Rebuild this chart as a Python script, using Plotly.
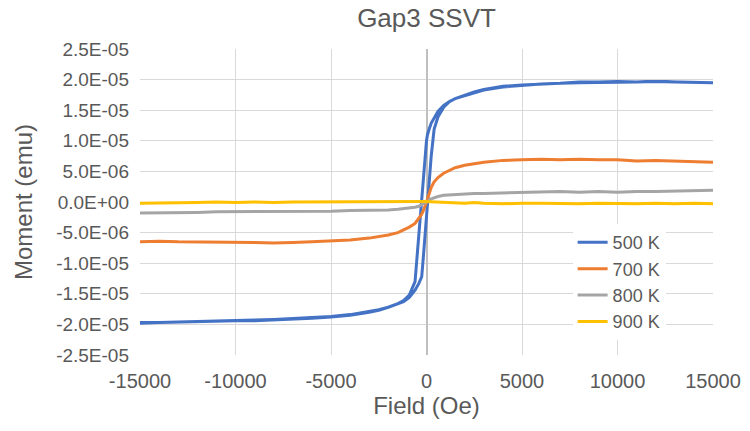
import plotly.graph_objects as go

# Field values (Oe), sweep from +15000 down to -15000
FIELD = [15000, 14000, 13000, 12000, 11000, 10000, 9000, 8000, 7000, 6000, 5000, 4000, 3000,
         2500, 2000, 1500, 1200, 900, 600, 400, 250, 150, 100, 50, 0,
         -50, -100, -150, -250, -400, -600, -900, -1200, -1500, -2000, -2500, -3000,
         -4000, -5000, -6000, -7000, -8000, -9000, -10000, -11000, -12000, -13000, -14000, -15000]
FIELD_UP = FIELD[::-1]

# Moments in micro-emu (1E-06 emu)
M500_DOWN = [19.5, 19.6, 19.6, 19.7, 19.6, 19.6, 19.5, 19.5, 19.4, 19.3, 19.1, 18.9, 18.4,
             18.0, 17.5, 16.9, 16.4, 15.8, 14.8, 13.8, 12.9, 12.0, 11.5, 11.0, 10.0,
             8.0, 6.0, 4.0, 0.0, -6.0, -13.0, -15.2, -16.1, -16.6, -17.2, -17.6, -17.9,
             -18.4, -18.7, -18.9, -19.1, -19.2, -19.3, -19.4, -19.5, -19.5, -19.6, -19.7, -19.7]
M500_UP = [-19.8, -19.7, -19.6, -19.6, -19.5, -19.4, -19.4, -19.3, -19.1, -19.0, -18.8, -18.5,
           -18.0, -17.7, -17.2, -16.7, -16.3, -15.6, -14.4, -13.3, -12.2, -8.4, -6.4, -4.4,
           -2.4, -0.4, 1.6, 3.6, 7.6, 11.9, 13.9, 15.5, 16.4, 16.9, 17.4, 17.9, 18.3,
           18.8, 19.1, 19.3, 19.4, 19.6, 19.6, 19.7, 19.6, 19.7, 19.6, 19.5, 19.5]
M700 = [6.5, 6.6, 6.6, 6.8, 6.7, 6.9, 6.9, 7.0, 6.9, 7.0, 6.9, 6.8, 6.5,
        6.3, 6.0, 5.6, 5.2, 4.7, 4.0, 3.3, 2.4, 1.6, 1.1, 0.5, 0.0,
        -0.5, -0.9, -1.3, -2.0, -2.7, -3.5, -4.1, -4.6, -5.0, -5.4, -5.7, -5.9,
        -6.2, -6.4, -6.5, -6.6, -6.7, -6.6, -6.6, -6.5, -6.6, -6.5, -6.4, -6.5]
M800 = [1.9, 1.8, 1.8, 1.7, 1.7, 1.6, 1.7, 1.6, 1.7, 1.6, 1.6, 1.5, 1.4,
        1.4, 1.3, 1.2, 1.2, 1.1, 0.9, 0.7, 0.5, 0.3, 0.2, 0.1, 0.0,
        -0.1, -0.2, -0.3, -0.5, -0.7, -0.85, -1.0, -1.1, -1.2, -1.3, -1.3, -1.4,
        -1.4, -1.5, -1.5, -1.6, -1.5, -1.6, -1.6, -1.6, -1.7, -1.7, -1.8, -1.8]
M900 = [-0.3, -0.2, -0.3, -0.2, -0.3, -0.2, -0.2, -0.3, -0.2, -0.2, -0.2, -0.3, -0.2,
        -0.1, -0.2, -0.1, -0.1, -0.1, 0.0, 0.0, 0.1, 0.1, 0.1, 0.1, 0.1,
        0.1, 0.1, 0.1, 0.1, 0.0, 0.1, 0.0, 0.1, 0.0, 0.0, 0.1, 0.0,
        0.0, 0.1, 0.0, 0.0, -0.1, 0.0, -0.1, 0.0, -0.1, -0.1, -0.2, -0.2]

SERIES_NAMES = ["500 K", "700 K", "800 K", "900 K"]
COLORS = ["#4472C4", "#ED7D31", "#A5A5A5", "#FFC000"]

X_TICKS = [-15000, -10000, -5000, 0, 5000, 10000, 15000]
X_TICK_LABELS = ["-15000", "-10000", "-5000", "0", "5000", "10000", "15000"]
Y_TICKS = [-2.5e-5, -2.0e-5, -1.5e-5, -1.0e-5, -5.0e-6, 0.0, 5.0e-6, 1.0e-5, 1.5e-5, 2.0e-5, 2.5e-5]
Y_TICK_LABELS = ["-2.5E-05", "-2.0E-05", "-1.5E-05", "-1.0E-05", "-5.0E-06", "0.0E+00",
                 "5.0E-06", "1.0E-05", "1.5E-05", "2.0E-05", "2.5E-05"]

UNIT = 1e-6
series = [
    (FIELD + FIELD_UP, M500_DOWN + M500_UP),
    (FIELD, M700),
    (FIELD, M800),
    (FIELD, M900),
]

TXT = "#595959"
FONT = "Liberation Sans, Arial, sans-serif"

fig = go.Figure()
for (xs, ys), name, col in zip(series, SERIES_NAMES, COLORS):
    fig.add_trace(go.Scatter(
        x=xs, y=[v * UNIT for v in ys], mode="lines", name=name,
        line=dict(color=col, width=3.0),
    ))

fig.update_layout(
    width=750, height=431,
    margin=dict(l=140, r=37, t=49, b=76, autoexpand=False),
    paper_bgcolor="white", plot_bgcolor="white",
    font=dict(family=FONT, color=TXT),
    title=dict(text="Gap3 SSVT", x=(140 + 713) / 2 / 750, xanchor="center",
               y=1 - 18 / 431, yanchor="middle", font=dict(size=26, color=TXT)),
    legend=dict(x=0.755, y=0.428, xanchor="left", yanchor="top",
                bgcolor="white", borderwidth=0, font=dict(size=18, color=TXT)),
    showlegend=True,
)
fig.update_xaxes(
    range=[-15000, 15000], tickvals=X_TICKS, ticktext=X_TICK_LABELS,
    tickfont=dict(size=20, color=TXT), ticks="", ticklabelstandoff=12,
    showgrid=True, gridcolor="#D9D9D9", gridwidth=1,
    zeroline=True, zerolinecolor="#BFBFBF", zerolinewidth=2, showline=False,
    title=dict(text="Field (Oe)", font=dict(size=24, color=TXT), standoff=6),
)
fig.update_yaxes(
    range=[-2.5e-5, 2.5e-5], tickvals=Y_TICKS, ticktext=Y_TICK_LABELS,
    tickfont=dict(size=19, color=TXT), ticks="", ticklabelstandoff=10,
    showgrid=True, gridcolor="#D9D9D9", gridwidth=1,
    zeroline=False, showline=False,
    title=dict(text="Moment (emu)", font=dict(size=24, color=TXT), standoff=16),
)

fig.write_html("out.html", config={"displayModeBar": False},
               post_script="document.body.style.margin='0';")
